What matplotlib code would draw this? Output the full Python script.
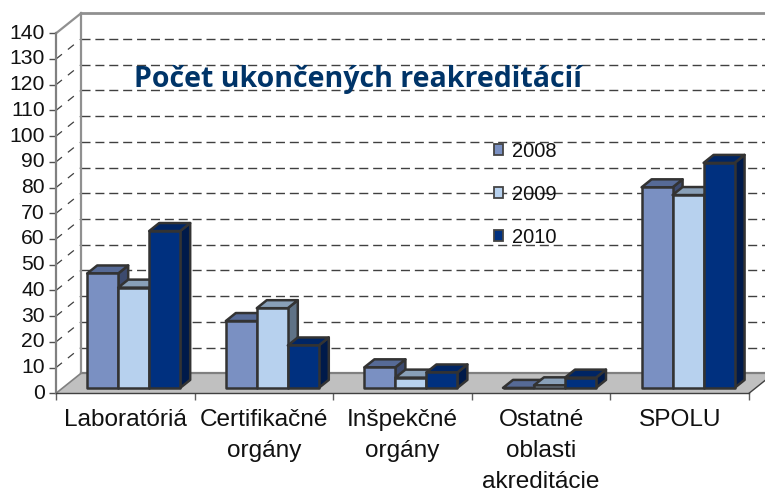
import matplotlib
matplotlib.use("Agg")
import matplotlib.pyplot as plt
from matplotlib.patches import Polygon, Patch
from matplotlib.transforms import ScaledTranslation

categories = ["Laboratóriá", "Certifikačné\norgány", "Inšpekčné\norgány",
              "Ostatné\noblasti\nakreditácie", "SPOLU"]
years = ["2008", "2009", "2010"]
values_2008 = [44.5, 26, 8, 0, 78]
values_2009 = [39, 31, 4, 1, 75]
values_2010 = [61, 16.5, 6, 4, 87.5]
y_ticks = list(range(0, 150, 10))

front_colors = ["#7a90c2", "#b7d1ee", "#00307f"]
top_colors = ["#566a96", "#89a0b8", "#002564"]
side_colors = ["#3c4a6e", "#5f7286", "#001a4a"]
edge = "#333333"

# depth of the walls and of the bars, in axis units
wall_dx, wall_dy = 25 / 138.6, 20 / 2.571
bar_dx, bar_dy = 10 / 138.6, 8 / 2.571
bar_w = 31 / 138.6
bar_start = 0.225
bar_base = 2.1

plt.rcParams["font.family"] = ["Liberation Sans", "DejaVu Sans"]
fig = plt.figure(figsize=(7.65, 4.92), dpi=100)
ax = fig.add_axes([56 / 765, (492 - 393.3) / 492, 693 / 765, 360 / 492])
ax.set_xlim(0, 5)
ax.set_ylim(0, 140)
for name in ["top", "right"]:
    ax.spines[name].set_visible(False)
ax.spines["left"].set_color("#808080")
ax.spines["left"].set_linewidth(1.6)
ax.spines["bottom"].set_color("#404040")
ax.spines["bottom"].set_linewidth(1.0)

ax.set_yticks(y_ticks)
ax.set_xticks([i + 0.5 for i in range(5)])
ax.set_xticklabels(categories, linespacing=1.52, va="top")
ax.set_xticks(range(6), minor=True)
ax.tick_params(axis="y", labelsize=15.2, length=5, width=1, color="#505050", pad=3, labelcolor="#111111")
ax.tick_params(axis="x", which="major", labelsize=17.6, length=0, pad=11.5, labelcolor="#111111")
ax.tick_params(axis="x", which="minor", length=5, width=1, color="#606060")
for label in ax.get_yticklabels():
    label.set_transform(label.get_transform() + ScaledTranslation(0, 1.5 / 72, fig.dpi_scale_trans))

# floor and walls
ax.add_patch(Polygon([(0, 0), (5, 0), (5 + wall_dx, wall_dy), (wall_dx, wall_dy)],
                     facecolor="#c0c0c0", edgecolor="none", clip_on=False, zorder=1))
ax.plot([wall_dx, 5 + wall_dx], [wall_dy, wall_dy], color="#808080", lw=1.6, clip_on=False, zorder=1.5)
ax.plot([wall_dx, 5 + wall_dx], [140 + wall_dy] * 2, color="#909090", lw=2, clip_on=False, zorder=1.5)
ax.plot([wall_dx, wall_dx], [wall_dy, 140 + wall_dy], color="#909090", lw=1.6, clip_on=False, zorder=1.5)
ax.plot([0, wall_dx], [140, 140 + wall_dy], color="#909090", lw=1.6, clip_on=False, zorder=1.5)
ax.plot([0, wall_dx], [0, wall_dy], color="#808080", lw=1.2, clip_on=False, zorder=1.5)
ax.plot([5, 5 + wall_dx], [0, wall_dy], color="#404040", lw=1, clip_on=False, zorder=1.5)

# dashed gridlines on the back and side walls
for v in y_ticks[1:-1]:
    ax.plot([wall_dx, 5 + wall_dx], [v + wall_dy] * 2, color="#404040", lw=1,
            dashes=(6.5, 3.5), clip_on=False, zorder=1.2)
    ax.plot([0, wall_dx], [v, v + wall_dy], color="#404040", lw=0.9,
            dashes=(6.1, 6.1), clip_on=False, zorder=1.2)


def draw_bar(x, v, i):
    x0, x1 = x, x + bar_w
    y0, y1 = bar_base, bar_base + v
    kw = dict(edgecolor=edge, linewidth=1.8, joinstyle="round", clip_on=False, zorder=3)
    ax.add_patch(Polygon([(x1, y0), (x1 + bar_dx, y0 + bar_dy), (x1 + bar_dx, y1 + bar_dy), (x1, y1)],
                         facecolor=side_colors[i], **kw))
    ax.add_patch(Polygon([(x0, y1), (x1, y1), (x1 + bar_dx, y1 + bar_dy), (x0 + bar_dx, y1 + bar_dy)],
                         facecolor=top_colors[i], **kw))
    ax.add_patch(Polygon([(x0, y0), (x1, y0), (x1, y1), (x0, y1)],
                         facecolor=front_colors[i], **kw))


for c in range(len(categories)):
    series = [values_2008[c], values_2009[c], values_2010[c]]
    for i, v in enumerate(series):
        draw_bar(c + bar_start + i * bar_w, v, i)

handles = [Patch(facecolor=front_colors[i], edgecolor="#444444", linewidth=1.3) for i in range(3)]
leg = ax.legend(handles, years, loc="upper left", bbox_to_anchor=(0.632, 0.698), frameon=False,
                fontsize=14.5, handlelength=0.45, handleheight=0.45, handletextpad=0.45,
                labelspacing=1.18, borderpad=0, borderaxespad=0)
for t in leg.get_texts():
    t.set_color("#111111")

fig.text(134 / 765, 1 - 80 / 492, "Počet ukončených reakreditácií", family="Open Sans",
         fontsize=20.5, fontweight="bold", color="#003468", va="center", ha="left")

fig.savefig("out.png", dpi=100)
